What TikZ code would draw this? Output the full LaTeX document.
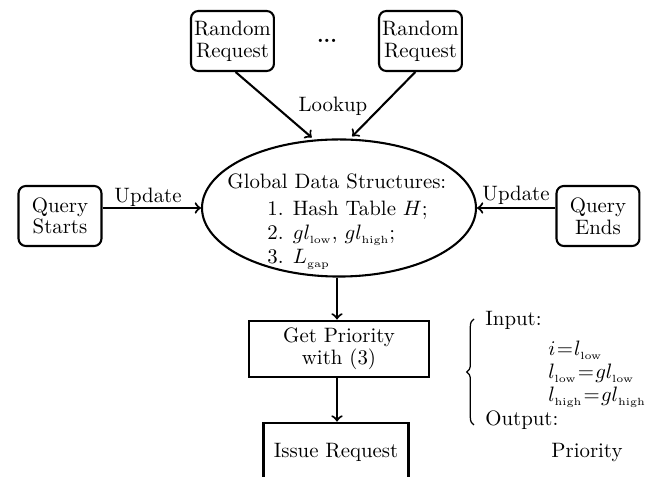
\documentclass[tikz,border=0pt]{standalone}
\usetikzlibrary{shapes.geometric,decorations.pathreplacing}
\newcommand{\sbl}{{\scriptscriptstyle\mathrm{low}}}
\newcommand{\sbh}{{\scriptscriptstyle\mathrm{high}}}
\newcommand{\sbg}{{\scriptscriptstyle\mathrm{gap}}}
\begin{document}
\begin{tikzpicture}[x=0.48pt,y=-0.48pt,
 lbl/.style={font=\fontsize{10}{10.4}\selectfont, inner sep=0pt},
 rbox/.style={draw, rounded corners=3.5pt, line width=1pt, minimum width=39.8pt, minimum height=28.8pt, inner sep=1pt, align=center, font=\fontsize{10}{10.4}\selectfont},
 sbox/.style={draw, line width=1.4pt, inner sep=1pt, align=center, font=\fontsize{10}{10.6}\selectfont},
 arr/.style={->, line width=1pt},
 txt/.style={inner sep=0pt, anchor=base west, font=\fontsize{10}{12}\selectfont}]
\useasboundingbox (0,0) rectangle (659,477);
\clip (0,0) rectangle (659,477);
% top request boxes
\node[rbox] (rr1) at (232.5,41) {Random\\Request};
\node[rbox] (rr2) at (420.5,41) {Random\\Request};
\node[lbl] (dots) at (327,41) {\textbf{...}};
% side boxes
\node[rbox] (qs) at (60,216) {Query\\Starts};
\node[rbox] (qe) at (598,216) {Query\\Ends};
% ellipse
\node[draw, ellipse, line width=1pt, minimum width=131.5pt, minimum height=65.8pt, inner sep=0pt] (ell) at (339,208) {};
\node[txt] (t0) at (227,189) {Global Data Structures:};
\node[txt] (t1) at (267,216) {1. Hash Table $H$;};
\node[txt] (t2) at (267,240) {2. $gl_\sbl$, $gl_\sbh$;};
\node[txt] (t3) at (267,264) {3. $L_\sbg$};
% lower boxes
\node[sbox, minimum width=86.4pt, minimum height=26.9pt] (gp) at (339,349) {Get Priority\\with (3)};
\node[sbox, minimum width=70pt, minimum height=27.8pt] (ir) at (336,452) {Issue Request};
% labels
\node[lbl] (lookup) at (333,106) {Lookup};
\node[lbl] (upl) at (148,197) {Update};
\node[lbl] (upr) at (516,195) {Update};
% connectors
\draw[arr, shorten >=1.5pt] ([xshift=1.5pt]rr1.south) -- (ell.110);
\draw[arr, shorten >=1.5pt] ([xshift=-2.5pt]rr2.south) -- (ell.81);
\draw[arr] (qs.east |- ell.west) -- (ell.west);
\draw[arr] (qe.west |- ell.east) -- (ell.east);
\draw[arr] (ell.south -| 337,0) -- (gp.north -| 337,0);
\draw[arr] (gp.south -| 337,0) -- (ir.north -| 337,0);
% brace and annotation
\draw[decorate, decoration={brace, amplitude=3.5pt}, line width=0.6pt] (474,425) -- (474,319);
\node[txt] (inp) at (485,326) {Input:};
\node[txt] (e1) at (548,356) {$\thickmuskip=1mu i = l_\sbl$};
\node[txt] (e2) at (548,379) {$\thickmuskip=1mu l_\sbl = gl_\sbl$};
\node[txt] (e3) at (548,402) {$\thickmuskip=1mu l_\sbh = gl_\sbh$};
\node[txt] (outp) at (485,426) {Output:};
\node[txt, anchor=base] (prio) at (587,458) {Priority};
\end{tikzpicture}
\end{document}
